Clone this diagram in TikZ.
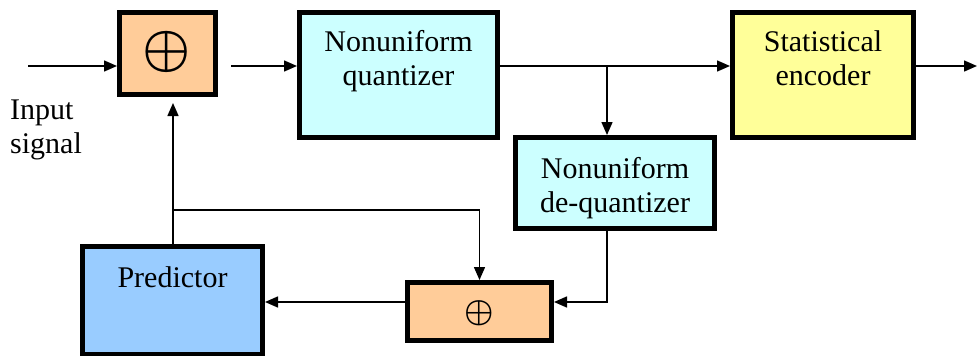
\documentclass[tikz,border=0pt]{standalone}
\usepackage{fix-cm}
\usepackage{fontspec}
\setmainfont{Liberation Serif}
\usetikzlibrary{arrows.meta}

\definecolor{addfill}{HTML}{FFCC99}
\definecolor{quantfill}{HTML}{CCFFFF}
\definecolor{encfill}{HTML}{FFFF99}
\definecolor{predfill}{HTML}{99CCFF}

\tikzset{
  block/.style={draw=black, line width=5pt, inner sep=0pt},
  lbl/.style={font=\fontsize{30}{34}\selectfont, align=center, anchor=base, inner sep=0pt},
  wire/.style={draw=black, line width=1.5pt, -{Triangle[length=13pt,width=11pt]}},
  bigsum/.style={font=\fontsize{54}{54}\selectfont\boldmath, inner sep=0pt},
  smallsum/.style={font=\fontsize{33}{33}\selectfont\boldmath, inner sep=0pt}
}

\begin{document}
\begin{tikzpicture}[x=1pt, y=-1pt]
  \useasboundingbox (0,0) rectangle (977,356);

  % blocks
  \node[block, fill=addfill,   minimum width=96pt,  minimum height=82pt]  (add1)  at (167.5,53.5) {};
  \node[block, fill=quantfill, minimum width=198pt, minimum height=125pt] (quant) at (398.5,75) {};
  \node[block, fill=encfill,   minimum width=181pt, minimum height=125pt] (enc)   at (823,75) {};
  \node[block, fill=quantfill, minimum width=199pt, minimum height=91pt]  (deq)   at (615,183) {};
  \node[block, fill=predfill,  minimum width=180pt, minimum height=108pt] (pred)  at (172.5,300.5) {};
  \node[block, fill=addfill,   minimum width=144pt, minimum height=58pt]  (add2)  at (479.5,311.5) {};

  % labels (base anchor sits on the last line)
  \node[bigsum]   (sum1)     at (167,52)    {$\oplus$};
  \node[smallsum] (sum2)     at (479,313)   {$\oplus$};
  \node[lbl]      (quanttxt) at (398.5,85)  {Nonuniform\\quantizer};
  \node[lbl]      (enctxt)   at (823,85)    {Statistical\\encoder};
  \node[lbl]      (deqtxt)   at (615,212)   {Nonuniform\\de-quantizer};
  \node[lbl]      (predtxt)  at (172.5,287) {Predictor};
  \node[lbl, align=left, anchor=base west] (intxt) at (10,153) {Input\\signal};

  % routing points
  \coordinate (row)     at (0,66);
  \coordinate (src)     at (28,66);
  \coordinate (add1out) at (231,66);
  \coordinate (tap)     at (607,66);
  \coordinate (sink)    at (977,66);
  \coordinate (fbx)     at (173,210);
  \coordinate (back)    at (607,302);

  % forward path
  \draw[wire] (src) -- (add1.west |- row);
  \draw[wire] (add1out) -- (quant.west |- row);
  \draw[wire] (quant.east |- row) -- (enc.west |- row);
  \draw[wire] (tap) -- (deq.north -| tap);
  \draw[wire] (enc.east |- row) -- (sink);

  % reconstruction loop
  \draw[wire] (deq.south -| tap) -- (back) -- (add2.east |- back);
  \draw[wire] (add2.west |- back) -- (pred.east |- back);
  \draw[wire, shorten >=6pt] (pred.north -| fbx) -- (add1.south -| fbx);
  \draw[wire] (fbx) -| (add2.north);
\end{tikzpicture}
\end{document}
